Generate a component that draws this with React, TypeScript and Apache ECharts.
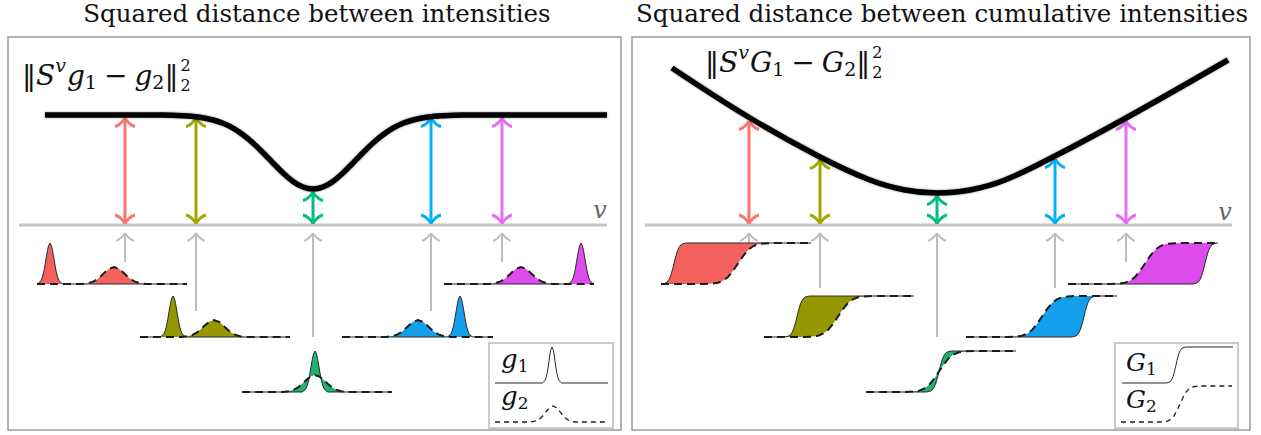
import { useEffect, useRef } from "react";
import * as echarts from "echarts";

const SERIF = '"DejaVu Serif", "Liberation Serif", serif';

// Five shifts v, shared by both panels (horizontal panel units)
const SHIFTS = [117, 188, 305, 423, 494];
const ARROW_COLORS = ["#F8766D", "#A3A500", "#00BF7D", "#00B0F6", "#E76BF3"];
const FILL_COLORS = ["#F2615C", "#969600", "#1BB56C", "#149FEC", "#DD4BEC"];

// ||S^v g1 - g2||^2 sampled along v
const DIST_A_V = [37, 155, 175, 190, 205, 215, 225, 235, 245, 255, 265, 275, 285, 295, 305, 315, 325, 335, 345, 355, 365, 375, 385, 395, 405, 420, 435, 455, 599];
const DIST_A = [110, 110, 109.3, 108, 105, 101.7, 96.9, 90.3, 82, 72.3, 62, 52, 43.6, 38, 36, 38, 43.6, 52, 62, 72.3, 82, 90.3, 96.9, 101.7, 105, 108, 109.3, 110, 110];
const DIST_A_AT_SHIFTS = [110, 110, 36, 110, 110];

// ||S^v G1 - G2||^2 sampled along v
const DIST_B_V = [40, 118, 188, 238, 273, 305, 338, 373, 423, 494, 596];
const DIST_B = [157, 107, 68, 45, 35, 32, 35, 45, 69, 107, 165];
const DIST_B_AT_SHIFTS = [107, 68, 32, 69, 107];

// grey guide arrows from each pair up to the v axis
const GUIDE_TIP = -8;
const GUIDE_TAIL_A = [-37, -86, -112, -86, -37];
const GUIDE_TAIL_B = [-18, -63, -112, -63, -37];

// one row per shift: extent, baseline, centre of the shifted g1 and of g2
const ROW_START = [29, 132, 234, 334, 436];
const ROW_END = [179, 282, 384, 485, 586];
const ROW_BASE = [-59, -112, -167, -112, -59];
const G1_CENTER = [42, 165, 307, 452, 573];
const G2_CENTER = [106, 206, 307, 410, 513];
const PEAK_HEIGHT = 41;
const BUMP_HEIGHT = 17;
const STEP_HEIGHT = 41;

// shapes of the two intensities and of their cumulative sums
const NARROW_DX = [-13, -12, -9, -8, -6.5, -5.5, -4, -2.5, -1.5, 0, 1.5, 2.5, 4, 5.5, 6.5, 8, 9, 12, 13];
const NARROW_PEAK = [0, 0.01, 0.08, 0.14, 0.27, 0.39, 0.61, 0.82, 0.93, 1, 0.93, 0.82, 0.61, 0.39, 0.27, 0.14, 0.08, 0.01, 0];
const WIDE_DX = [-32, -26, -21, -17, -13, -9, -5, 0, 5, 9, 13, 17, 21, 26, 32];
const WIDE_BUMP = [0, 0.05, 0.14, 0.27, 0.47, 0.69, 0.89, 1, 0.89, 0.69, 0.47, 0.27, 0.14, 0.05, 0];
const NARROW_STEP_DX = [-13, -10, -7, -5, -3.5, -2.5, -1.2, 0, 1.2, 2.5, 3.5, 5, 7, 10, 13];
const NARROW_STEP = [0, 0.01, 0.04, 0.11, 0.19, 0.27, 0.38, 0.5, 0.62, 0.73, 0.81, 0.89, 0.96, 0.99, 1];
const WIDE_STEP_DX = [-34, -26, -20, -15, -10, -5, 0, 5, 10, 15, 20, 26, 34];
const WIDE_STEP = [0, 0.01, 0.03, 0.08, 0.17, 0.32, 0.5, 0.68, 0.83, 0.92, 0.97, 0.99, 1];

// legend samples: [start, end, base, centre, height, width factor]
const LEGEND_G1 = [487, 600, -158, 544, 36, 0.75];
const LEGEND_G2 = [487, 600, -197, 545, 16, 0.7];
// [start, end, low, high, centre, width factor]
const LEGEND_CG1 = [490, 601, -158, -122, 544, 0.8];
const LEGEND_CG2 = [489, 600, -197, -161, 548, 0.6];

type Pt = [number, number];

const peakCurve = (start: number, end: number, base: number, center: number, dx: number[], prof: number[], height: number, ws = 1): Pt[] => {
  const pts: Pt[] = [[start, base]];
  dx.forEach((d, k) => pts.push([center + d * ws, base + prof[k] * height]));
  pts.push([end, base]);
  return pts;
};

const stepCurve = (start: number, end: number, low: number, high: number, center: number, dx: number[], prof: number[], ws = 1): Pt[] => {
  const pts: Pt[] = [[start, low]];
  dx.forEach((d, k) => pts.push([center + d * ws, low + prof[k] * (high - low)]));
  pts.push([end, high]);
  return pts;
};

const arrowHead = (tip: number[], dir: number, size: number, stroke: string, lw: number) =>
  [-1, 1].map((s) => ({
    type: "bezierCurve",
    shape: {
      x1: tip[0] + s * size,
      y1: tip[1] - dir * size * 0.86,
      cpx1: tip[0] + s * size * 0.62,
      cpy1: tip[1] - dir * size * 0.8,
      cpx2: tip[0] + s * size * 0.06,
      cpy2: tip[1] - dir * size * 0.17,
      x2: tip[0],
      y2: tip[1],
    },
    style: { stroke, lineWidth: lw, fill: "none" },
  }));

const pairItem = (fill: string | null, solid: Pt[], dashed: Pt[], api: any, dashW = 2, dash = [8, 5]) => {
  const pa = solid.map((p) => api.coord(p));
  const pb = dashed.map((p) => api.coord(p));
  const children: any[] = [];
  if (fill) {
    children.push({ type: "polygon", shape: { points: pa.concat(pb.slice().reverse()) }, style: { fill, stroke: "none" } });
  }
  children.push({ type: "polyline", shape: { points: pa }, style: { stroke: "#2a2a2a", lineWidth: 1, fill: "none" } });
  children.push({ type: "polyline", shape: { points: pb }, style: { stroke: "#1c1c1c", lineWidth: dashW, lineDash: dash, fill: "none" } });
  return { type: "group", children };
};

const measure = document.createElement("canvas").getContext("2d") as CanvasRenderingContext2D;

type Piece = { t: string; size: number; italic?: boolean; dy?: number; gap?: number; keep?: boolean };
const typeset = (pieces: Piece[], x0: number, yMid: number, fill = "#111") => {
  let x = x0;
  return pieces.map((p) => {
    measure.font = `${p.italic ? "italic " : ""}${p.size}px ${SERIF}`;
    const w = measure.measureText(p.t).width;
    const el = {
      type: "text",
      x,
      y: yMid + (p.dy || 0),
      silent: true,
      style: {
        text: p.t, fontSize: p.size, fontStyle: p.italic ? "italic" : "normal", fontFamily: SERIF, fill,
        align: "left", verticalAlign: "middle",
      },
    };
    if (!p.keep) x += w + (p.gap || 0);
    return el;
  });
};

const formula = (sym: string): Piece[] => [
  { t: "‖", size: 28 },
  { t: "S", size: 28, italic: true },
  { t: "v", size: 19, italic: true, dy: -10, gap: 1 },
  { t: sym, size: 28, italic: true },
  { t: "1", size: 19, dy: 7, gap: 7 },
  { t: "−", size: 28, gap: 7 },
  { t: sym, size: 28, italic: true },
  { t: "2", size: 19, dy: 7 },
  { t: "‖", size: 28, gap: 2 },
  { t: "2", size: 16, dy: -10, keep: true },
  { t: "2", size: 16, dy: 10 },
];

function buildOption() {
  const panels = [
    { dist: DIST_A, distV: DIST_A_V, atShift: DIST_A_AT_SHIFTS, tails: GUIDE_TAIL_A, cumulative: false, axisEnd: 599, axisStart: 11, smooth: 0.2 },
    { dist: DIST_B, distV: DIST_B_V, atShift: DIST_B_AT_SHIFTS, tails: GUIDE_TAIL_B, cumulative: true, axisEnd: 600, axisStart: 13, smooth: 0.4 },
  ];

  const series: any[] = [];
  panels.forEach((P, pi) => {
    const axes = { xAxisIndex: pi, yAxisIndex: pi };
    // v axis
    series.push({
      type: "line", ...axes, silent: true, symbol: "none", z: 1,
      data: [[P.axisStart, 0], [P.axisEnd, 0]],
      lineStyle: { color: "#c4c4c4", width: 3 },
    });
    // grey guides
    series.push({
      type: "custom", ...axes, silent: true, z: 2, clip: false,
      data: SHIFTS.map((v, i) => [v, P.tails[i], i]),
      renderItem: (_: any, api: any) => {
        const tip = api.coord([api.value(0), GUIDE_TIP]);
        const tail = api.coord([api.value(0), api.value(1)]);
        return {
          type: "group",
          children: [
            { type: "line", shape: { x1: tail[0], y1: tail[1], x2: tip[0], y2: tip[1] }, style: { stroke: "#bdbdbd", lineWidth: 2 } },
            ...arrowHead(tip, -1, 9, "#bdbdbd", 2),
          ],
        };
      },
    });
    // pairs (S^v g1, g2) or (S^v G1, G2)
    series.push({
      type: "custom", ...axes, silent: true, z: 3, clip: false,
      data: ROW_START.map((s, i) => [s, ROW_BASE[i], i]),
      renderItem: (_: any, api: any) => {
        const i = api.value(2);
        const s = ROW_START[i], e = ROW_END[i], b = ROW_BASE[i];
        if (!P.cumulative) {
          const g1 = peakCurve(s, e, b, G1_CENTER[i], NARROW_DX, NARROW_PEAK, PEAK_HEIGHT);
          const g2 = peakCurve(s, e, b, G2_CENTER[i], WIDE_DX, WIDE_BUMP, BUMP_HEIGHT);
          return pairItem(FILL_COLORS[i], g1, g2, api);
        }
        const G1 = stepCurve(s, e, b, b + STEP_HEIGHT, G1_CENTER[i], NARROW_STEP_DX, NARROW_STEP);
        const G2 = stepCurve(s, e, b, b + STEP_HEIGHT, G2_CENTER[i], WIDE_STEP_DX, WIDE_STEP);
        return pairItem(FILL_COLORS[i], G1, G2, api);
      },
    });
    // legend samples
    series.push({
      type: "custom", ...axes, silent: true, z: 3, clip: false,
      data: [[0, 0]],
      renderItem: (_: any, api: any) => {
        if (!P.cumulative) {
          const [s1, e1, b1, c1, h1, w1] = LEGEND_G1;
          const [s2, e2, b2, c2, h2, w2] = LEGEND_G2;
          return pairItem(null, peakCurve(s1, e1, b1, c1, NARROW_DX, NARROW_PEAK, h1, w1), peakCurve(s2, e2, b2, c2, WIDE_DX, WIDE_BUMP, h2, w2), api, 1.3, [5, 4]);
        }
        const [s1, e1, l1, t1, c1, w1] = LEGEND_CG1;
        const [s2, e2, l2, t2, c2, w2] = LEGEND_CG2;
        return pairItem(null, stepCurve(s1, e1, l1, t1, c1, NARROW_STEP_DX, NARROW_STEP, w1), stepCurve(s2, e2, l2, t2, c2, WIDE_STEP_DX, WIDE_STEP, w2), api, 1.3, [5, 4]);
      },
    });
    // double arrows: distance at each shift
    series.push({
      type: "custom", ...axes, silent: true, z: 4, clip: false,
      data: SHIFTS.map((v, i) => [v, P.atShift[i], i]),
      renderItem: (_: any, api: any) => {
        const i = api.value(2);
        const top = api.coord([api.value(0), api.value(1)]);
        const bot = api.coord([api.value(0), 0]);
        const t = [top[0], top[1] + 3];
        const b = [bot[0], bot[1] - 1.5];
        const c = ARROW_COLORS[i];
        return {
          type: "group",
          children: [
            { type: "line", shape: { x1: t[0], y1: t[1], x2: b[0], y2: b[1] }, style: { stroke: c, lineWidth: 3 } },
            ...arrowHead(t, -1, 10, c, 3),
            ...arrowHead(b, 1, 10, c, 3),
          ],
        };
      },
    });
    // distance curve
    series.push({
      type: "line", ...axes, silent: true, symbol: "none", z: 5, smooth: P.smooth,
      data: P.distV.map((v, k) => [v, P.dist[k]]),
      lineStyle: { color: "#000", width: 5.5, shadowColor: "rgba(0,0,0,0.45)", shadowBlur: 2 },
    });
  });

  const graphic: any[] = [
    { type: "text", x: 317, y: 13, silent: true, style: { text: "Squared distance between intensities", fontSize: 24.5, fontFamily: SERIF, fill: "#111", align: "center", verticalAlign: "middle" } },
    { type: "text", x: 942, y: 13, silent: true, style: { text: "Squared distance between cumulative intensities", fontSize: 24.5, fontFamily: SERIF, fill: "#111", align: "center", verticalAlign: "middle" } },
    ...typeset(formula("g"), 22, 75),
    ...typeset(formula("G"), 705, 62),
    { type: "text", x: 600, y: 210, silent: true, style: { text: "v", fontSize: 24, fontStyle: "italic", fontFamily: SERIF, fill: "#666", align: "center", verticalAlign: "middle" } },
    { type: "text", x: 1225, y: 212, silent: true, style: { text: "v", fontSize: 24, fontStyle: "italic", fontFamily: SERIF, fill: "#666", align: "center", verticalAlign: "middle" } },
    { type: "rect", silent: true, shape: { x: 489, y: 343, width: 124, height: 85 }, style: { fill: "#fff", stroke: "#bbb", lineWidth: 1.5 }, z: 0 },
    { type: "rect", silent: true, shape: { x: 1115, y: 343, width: 123, height: 85 }, style: { fill: "#fff", stroke: "#bbb", lineWidth: 1.5 }, z: 0 },
    ...typeset([{ t: "g", size: 26, italic: true }, { t: "1", size: 17, dy: 7 }], 501, 359),
    ...typeset([{ t: "g", size: 26, italic: true }, { t: "2", size: 17, dy: 7 }], 501, 396),
    ...typeset([{ t: "G", size: 25, italic: true }, { t: "1", size: 17, dy: 7 }], 1126, 362),
    ...typeset([{ t: "G", size: 25, italic: true }, { t: "2", size: 17, dy: 7 }], 1126, 399),
  ];

  return {
    animation: false,
    backgroundColor: "#fff",
    grid: [
      { left: 8, top: 37, width: 613, height: 393, show: true, borderColor: "#9a9a9a", borderWidth: 1.5 },
      { left: 632, top: 37, width: 618, height: 393, show: true, borderColor: "#9a9a9a", borderWidth: 1.5 },
    ],
    xAxis: [
      { type: "value", gridIndex: 0, min: 0, max: 613, show: false },
      { type: "value", gridIndex: 1, min: 0, max: 618, show: false },
    ],
    yAxis: [
      { type: "value", gridIndex: 0, min: -205, max: 188, show: false },
      { type: "value", gridIndex: 1, min: -205, max: 188, show: false },
    ],
    graphic,
    series,
  };
}

export default function App() {
  const ref = useRef<HTMLDivElement>(null);
  useEffect(() => {
    if (!ref.current) return;
    const chart = echarts.init(ref.current, undefined, { renderer: "svg" });
    chart.setOption(buildOption() as any);
    return () => chart.dispose();
  }, []);
  return <div ref={ref} style={{ position: "absolute", left: 0, top: 0, width: 1261, height: 435 }} />;
}
